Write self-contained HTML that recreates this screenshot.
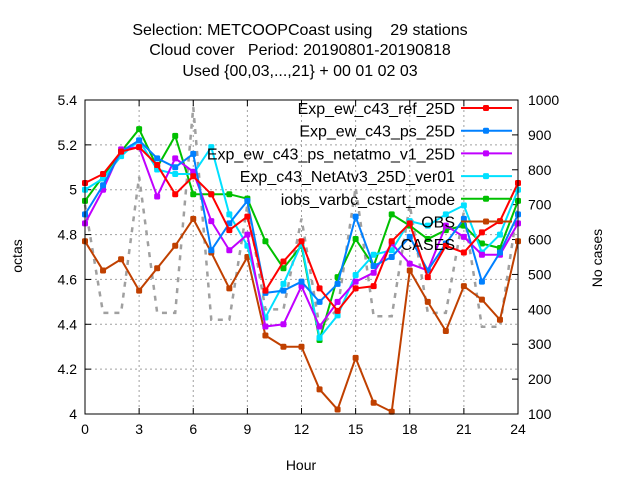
<!DOCTYPE html>
<html><head><meta charset="utf-8"><style>
body{margin:0;background:#fff;}
svg{display:block;font-family:"Liberation Sans",sans-serif;}
text{white-space:pre;}
</style></head><body>
<svg id="chart" width="640" height="480">
<g id="titles" font-size="16" text-anchor="middle" fill="#000">
<text x="300" y="35" xml:space="preserve">Selection: METCOOPCoast using    29 stations</text>
<text x="300" y="55" xml:space="preserve">Cloud cover   Period: 20190801-20190818</text>
<text x="300" y="76">Used {00,03,...,21} + 00 01 02 03</text>
</g>
<text x="22" y="256" font-size="14" text-anchor="middle" transform="rotate(-90 22 256)">octas</text>
<text x="602" y="258" font-size="14" text-anchor="middle" transform="rotate(-90 602 258)">No cases</text>
<text x="301" y="470" font-size="14" text-anchor="middle">Hour</text>
<g id="grid"></g><g id="axes"></g><g id="series"></g><g id="legend"></g>
<rect x="85" y="100" width="433" height="314" fill="none" stroke="#000" stroke-width="1"/>
</svg>
<script>
const hours=[0,1,2,3,4,5,6,7,8,9,10,11,12,13,14,15,16,17,18,19,20,21,22,23,24];
const xTicks=[0,3,6,9,12,15,18,21,24];
const yTicks=[4,4.2,4.4,4.6,4.8,5,5.2,5.4];
const yTickLabels=["4","4.2","4.4","4.6","4.8","5","5.2","5.4"];
const y2Ticks=[100,200,300,400,500,600,700,800,900,1000];
const refVals=[5.03,5.07,5.17,5.19,5.11,4.98,5.06,4.98,4.82,4.88,4.55,4.68,4.77,4.56,4.46,4.56,4.57,4.77,4.85,4.61,4.75,4.72,4.81,4.86,5.03];
const psVals=[4.89,5.02,5.17,5.22,5.14,5.10,5.16,4.73,4.85,4.95,4.54,4.55,4.59,4.50,4.58,4.88,4.66,4.70,4.79,4.64,4.76,4.87,4.59,4.72,4.89];
const netatmoVals=[4.85,5.00,5.18,5.19,4.97,5.14,5.08,4.86,4.73,4.80,4.39,4.40,4.57,4.39,4.50,4.59,4.63,4.76,4.67,4.64,4.84,4.79,4.71,4.71,4.85];
const netv3Vals=[5.00,5.05,5.15,5.22,5.09,5.07,5.07,5.19,4.89,4.75,4.43,4.58,4.76,4.34,4.44,4.62,4.71,4.73,4.86,4.84,4.89,4.93,4.72,4.80,5.00];
const varbcVals=[4.95,5.06,5.17,5.27,5.10,5.24,4.98,4.98,4.98,4.96,4.77,4.65,4.75,4.33,4.61,4.78,4.66,4.89,4.84,4.78,4.82,4.84,4.76,4.74,4.95];
const obsVals=[4.77,4.64,4.69,4.55,4.65,4.75,4.87,4.72,4.56,4.70,4.35,4.30,4.30,4.11,4.02,4.25,4.05,4.01,4.64,4.50,4.37,4.57,4.51,4.42,4.77];
const casesVals=[700,390,390,780,390,390,980,370,370,700,400,400,660,350,400,750,380,380,700,390,390,680,350,350,700];
const seriesNames=["Exp_ew_c43_ref_25D","Exp_ew_c43_ps_25D","Exp_ew_c43_ps_netatmo_v1_25D","Exp_c43_NetAtv3_25D_ver01","iobs_varbc_cstart_mode","OBS"];
const NS="http://www.w3.org/2000/svg";
const X0=85,X1=518,Y0=414,Y1=100;
function xs(h){return X0+(h-0)/24*(X1-X0);}
function ys(v){return Y0-(v-4)/1.4*(Y0-Y1);}
function ys2(c){return Y0-(c-100)/900*(Y0-Y1);}
function mk(tag,attrs,parent){const e=document.createElementNS(NS,tag);for(const k in attrs)e.setAttribute(k,attrs[k]);parent.appendChild(e);return e;}
const grid=document.getElementById('grid'),axes=document.getElementById('axes'),ser=document.getElementById('series'),leg=document.getElementById('legend');
xTicks.forEach(t=>{const x=xs(t);
 const g=mk('line',{x1:x,x2:x,y1:Y1,y2:Y0,stroke:'#a0a0a0','stroke-dasharray':'2,3'},grid);
 
 
 mk('line',{x1:x,x2:x,y1:Y0,y2:Y0-6,stroke:'#000'},axes);
 mk('line',{x1:x,x2:x,y1:Y1,y2:Y1+6,stroke:'#000'},axes);
 const tx=mk('text',{x:x,y:Y0+20,'font-size':14,'text-anchor':'middle'},axes);tx.textContent=t;
 
 
});
yTicks.forEach((t,i)=>{const y=ys(t);
 const g=mk('line',{x1:X0,x2:X1,y1:y,y2:y,stroke:'#a0a0a0','stroke-dasharray':'2,3'},grid);
 
 
 mk('line',{x1:X0,x2:X0+6,y1:y,y2:y,stroke:'#000'},axes);
 const tx=mk('text',{x:X0-8,y:y+5,'font-size':14,'text-anchor':'end'},axes);tx.textContent=yTickLabels[i];
 
 
});
y2Ticks.forEach(t=>{const y=ys2(t);
 mk('line',{x1:X1,x2:X1-6,y1:y,y2:y,stroke:'#000'},axes);
 const tx=mk('text',{x:X1+10,y:y+5,'font-size':14,'text-anchor':'start'},axes);tx.textContent=t;
 
 
});
const cp=mk('polyline',{points:hours.map((h,i)=>xs(h)+','+ys2(casesVals[i])).join(' '),fill:'none',stroke:'#a0a0a0','stroke-width':2.5,'stroke-dasharray':'5,6'},ser);


const sets=[refVals,psVals,netatmoVals,netv3Vals,varbcVals,obsVals];
const cols=['#ff0000','#0080ff','#c000ff','#00e0ff','#00c000','#c04000'];
const ord=[5,4,3,2,1,0];
ord.forEach(si=>{const vals=sets[si],c=cols[si];
 const pl=mk('polyline',{points:hours.map((h,i)=>xs(h)+','+ys(vals[i])).join(' '),fill:'none',stroke:c,'stroke-width':2},ser);
 
 
 hours.forEach((h,i)=>{const r=mk('rect',{x:xs(h)-3,y:ys(vals[i])-3,width:6,height:6,rx:1.5,fill:c},ser);
  
  });
});
const legNames=seriesNames.concat(["CASES"]);
legNames.forEach((n,i)=>{const y=108+i*22.7;
 const t=mk('text',{x:455,y:y+6,'font-size':16,'text-anchor':'end'},leg);t.textContent=n;
 
 
 if(i<6){mk('line',{x1:461,x2:512,y1:y,y2:y,stroke:cols[i],'stroke-width':2},leg);
  mk('rect',{x:483,y:y-3,width:6,height:6,rx:1.5,fill:cols[i]},leg);}
});
</script>
</body></html>
